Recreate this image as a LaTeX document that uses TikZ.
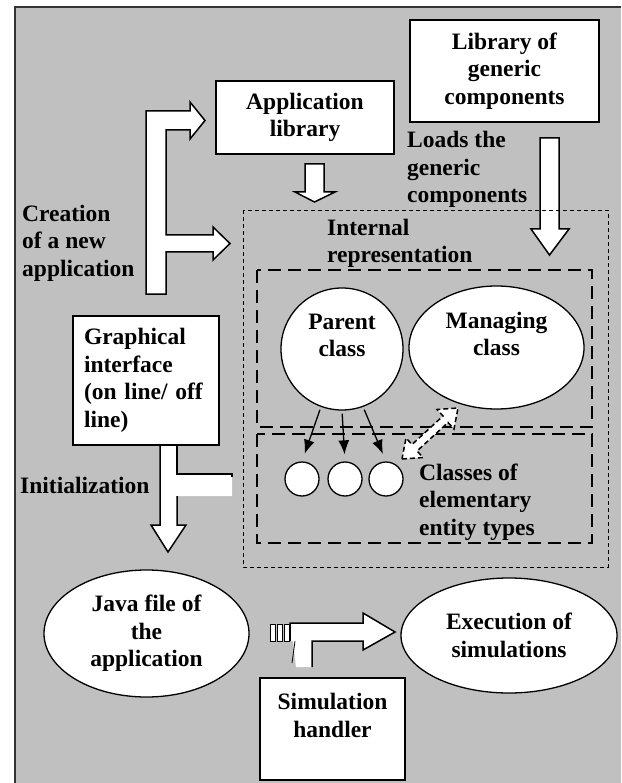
\documentclass[tikz,border=0pt]{standalone}
\usepackage{fontspec}
\setmainfont{Liberation Serif}
\usetikzlibrary{shapes.geometric,arrows.meta}
\definecolor{panel}{RGB}{192,192,192}

\begin{document}
\begin{tikzpicture}[x=1pt,y=-1pt,
	every node/.style={font=\bfseries\fontsize{23.5}{27.5}\selectfont,inner sep=0pt,align=center},
	box/.style={draw,fill=white,line width=1.5pt,rectangle},
	ell/.style={draw,fill=white,line width=1.3pt,ellipse},
	bigarrow/.style={draw,fill=white,line width=1.5pt,line join=miter},
	outerdash/.style={line width=0.9pt,dash pattern=on 4pt off 3pt},
	innerdash/.style={line width=1.6pt,dash pattern=on 13pt off 7pt},
	arr/.style={line width=1.3pt,-{Latex[length=14pt,width=11pt]}}]
	\useasboundingbox (0,0) rectangle (621,783);
	
	%PANEL
	\fill[panel] (15,7) rectangle (621,783);
	\draw[line width=1.5pt,black!80] (15,783)--(15,7)--(621,7);
	
	%TOP BOXES
	\node[box,minimum width=189,minimum height=102] (lib) at (504.5,71) {Library of\\generic\\components};
	\node[box,minimum width=178,minimum height=73] (applib) at (305,117.5) {Application\\library};
	
	%BIG ARROWS (TOP)
	\draw[bigarrow] (146,111)--(190,111)--(190,102)--(205,120.5)--(190,139)--(190,130)--(166,130)--(166,235)--(213,235)--(213,227)--(230,243.5)--(213,260)--(213,252)--(166,252)--(166,294)--(146,294)--cycle;
	\draw[bigarrow] (305,164)--(324,164)--(324,192)--(335,192)--(314.5,202)--(295,192)--(305,192)--cycle;
	\draw[bigarrow] (540,138)--(559,138)--(559,229)--(569,229)--(549.5,255)--(531,229)--(540,229)--cycle;
	
	%LABELS
	\node[anchor=west,align=left] (loads) at (407,169.5) {Loads the\\generic\\components};
	\node[anchor=west,align=left] (creation) at (22,243) {Creation\\of a new\\application};
	\node[anchor=west,align=left] (intrep) at (327,243.5) {Internal\\representation};
	
	%DASHED REGIONS
	\draw[outerdash] (243,210) rectangle (608,567);
	\draw[innerdash] (257,270) rectangle (592,427);
	\draw[innerdash] (257,434) rectangle (592,543);
	
	%CLASSES
	\node[ell,circle,minimum size=122] (parent) at (342,349) {Parent\\class\\~};
	\node[ell,minimum width=175,minimum height=123] (managing) at (496.5,347.5) {Managing\\class\\~};
	\node[ell,circle,minimum size=34] (e1) at (302,479) {};
	\node[ell,circle,minimum size=34] (e2) at (345,479) {};
	\node[ell,circle,minimum size=34] (e3) at (386,479) {};
	\node[anchor=west,align=left] (classes) at (419,502) {Classes of\\elementary\\entity types};
	
	\draw[arr,shorten <=3pt,shorten >=8pt] (parent.250)--(e1.north);
	\draw[arr,shorten <=3pt,shorten >=7pt] (parent.270)--(e2.north);
	\draw[arr,shorten <=3pt,shorten >=8pt] (parent.290)--(e3.north);
	
	%DOUBLE ARROW
	\draw[fill=white,line width=1.5pt,dash pattern=on 5pt off 3pt] (402,459)--(423,457.5)--(417,451)--(448,422.5)--(454,429)--(458,408)--(437,409.5)--(443,416)--(412,444.5)--(406,438)--cycle;
	
	%GRAPHICAL INTERFACE
	\node[box,minimum width=146,minimum height=129,text width=124,inner xsep=11pt,align=left] (gui) at (146,380.5) {Graphical\\interface\\(on line/ off\\line)};
	\node[anchor=west] (init) at (20,485) {Initialization};
	\fill[white] (160,446)--(177,446)--(177,474)--(232,474)--(232,496)--(177,496)--(177,525)--(186,525)--(168,552)--(151,525)--(160,525)--cycle;
	\draw[line width=1.5pt] (177,446)--(177,474)--(232,474)--(232,477);
	\draw[line width=1.5pt,line join=miter] (177,496)--(177,525)--(186,525)--(168,552)--(151,525)--(160,525)--(160,446);
	
	%BOTTOM
	\node[ell,minimum width=205,minimum height=127] (java) at (146.5,633.5) {Java file of\\the\\application};
	\node[ell,minimum width=216,minimum height=115] (exec) at (509,635.5) {Execution of\\simulations};
	\node[box,minimum width=145,minimum height=102] (handler) at (332.5,729) {Simulation\\handler\\~};
	
	%SIMULATION ARROW
	\fill[white] (290,623)--(363,623)--(363,613)--(395,632)--(363,650)--(363,641)--(312,641)--(312,667)--(296,667)--(293,641)--(290,641)--cycle;
	\draw[line width=1.5pt,line join=miter] (290,641)--(290,623)--(363,623)--(363,613)--(395,632)--(363,650)--(363,641)--(312,641)--(312,667);
	\draw[line width=0.8pt] (295,641)--(292,663);
	\draw[line width=1pt,fill=white] (270,624) rectangle (275,641);
	\draw[line width=1pt,fill=white] (277,624) rectangle (282,641);
	\draw[line width=1pt,fill=white] (284,624) rectangle (289,641);
\end{tikzpicture}
\end{document}
